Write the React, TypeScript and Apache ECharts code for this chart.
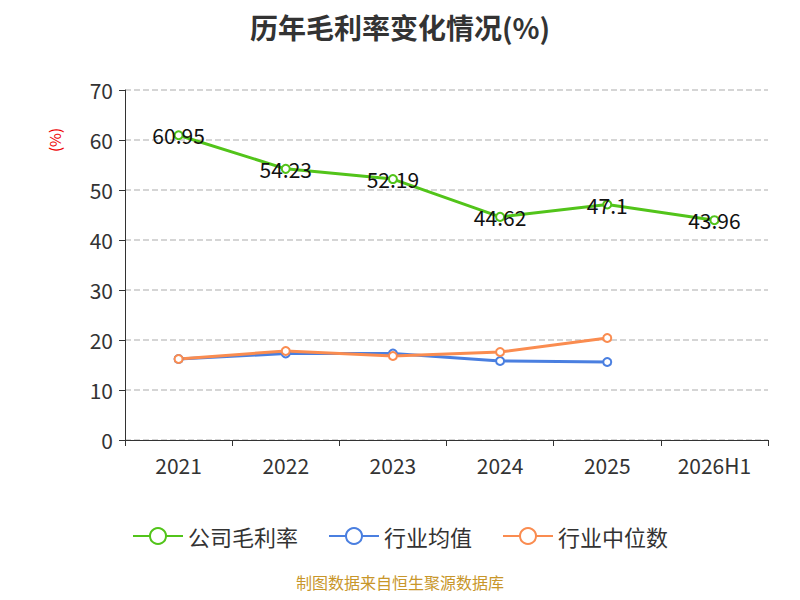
import { useEffect, useRef } from "react";
import * as echarts from "echarts";

const categories = ["2021", "2022", "2023", "2024", "2025", "2026H1"];
const companyMargin = [60.95, 54.23, 52.19, 44.62, 47.1, 43.96];
const industryAvg = [16.2, 17.3, 17.3, 15.8, 15.6, null];
const industryMedian = [16.2, 17.8, 16.8, 17.6, 20.4, null];

export default function App() {
  const ref = useRef<HTMLDivElement | null>(null);

  useEffect(() => {
    if (!ref.current) return;
    const chart = echarts.init(ref.current, null, { renderer: "svg" });
    const font = "'Noto Sans CJK SC', 'Noto Sans', sans-serif";
    chart.setOption({
      animation: false,
      textStyle: { fontFamily: font },
      title: {
        text: "历年毛利率变化情况(%)",
        left: "center",
        top: 0,
        textStyle: { fontSize: 28, fontWeight: "bold", color: "#333" }
      },
      grid: { left: 117, right: 24, top: 82, bottom: 152 },
      legend: {
        bottom: 40,
        itemWidth: 50,
        itemHeight: 20,
        itemGap: 30,
        textStyle: { fontSize: 22, color: "#333" },
        data: ["公司毛利率", "行业均值", "行业中位数"]
      },
      graphic: [
        {
          type: "text",
          x: 46,
          y: 132,
          rotation: Math.PI / 2,
          style: { text: "(%)", fill: "#e00", fontSize: 15, fontFamily: font, align: "center", verticalAlign: "middle" }
        },
        {
          type: "text",
          left: "center",
          bottom: 2,
          style: { text: "制图数据来自恒生聚源数据库", fill: "#c8962a", fontSize: 16, fontFamily: font }
        }
      ],
      xAxis: {
        type: "category",
        data: categories,
        boundaryGap: true,
        axisLine: { lineStyle: { color: "#333" } },
        axisTick: { show: true, length: 6 },
        axisLabel: { fontSize: 21, color: "#333", margin: 14 }
      },
      yAxis: {
        type: "value",
        min: 0,
        max: 70,
        interval: 10,
        axisLine: { show: true, lineStyle: { color: "#333" } },
        axisTick: { show: true, length: 6 },
        axisLabel: { fontSize: 21, color: "#333", margin: 12 },
        splitLine: { lineStyle: { type: "dashed", color: "#c8c8c8", width: 1.5 } }
      },
      series: [
        {
          name: "公司毛利率",
          type: "line",
          data: companyMargin,
          color: "#52c41a",
          symbol: "circle",
          symbolSize: 8,
          itemStyle: { color: "#fff", borderColor: "#52c41a", borderWidth: 2 },
          lineStyle: { width: 3, color: "#52c41a" },
          label: { show: true, position: "inside", fontSize: 21, color: "#111" },
          z: 3
        },
        {
          name: "行业均值",
          type: "line",
          data: industryAvg,
          color: "#4a7fe0",
          symbol: "circle",
          symbolSize: 8,
          itemStyle: { color: "#fff", borderColor: "#4a7fe0", borderWidth: 2 },
          lineStyle: { width: 3, color: "#4a7fe0" }
        },
        {
          name: "行业中位数",
          type: "line",
          data: industryMedian,
          color: "#fa8c50",
          symbol: "circle",
          symbolSize: 8,
          itemStyle: { color: "#fff", borderColor: "#fa8c50", borderWidth: 2 },
          lineStyle: { width: 3, color: "#fa8c50" }
        }
      ]
    });
    return () => chart.dispose();
  }, []);

  return <div ref={ref} style={{ width: 784, height: 584 }} />;
}
